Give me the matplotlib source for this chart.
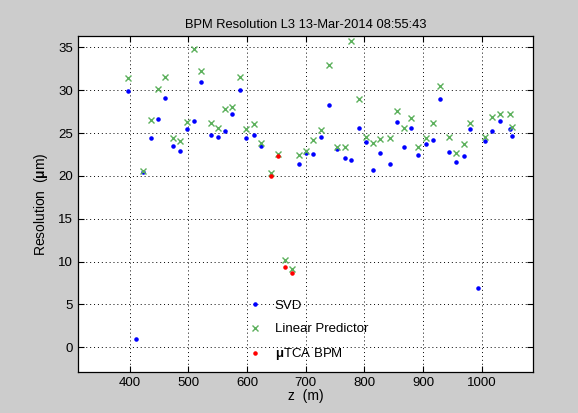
import numpy as np
import matplotlib
matplotlib.use("Agg")
import matplotlib.pyplot as plt

nan = np.nan

# BPM positions along the linac (m)
z = [397, 410, 423, 436, 448, 461, 473, 486, 498, 509, 522, 538, 551, 562,
     575, 588, 599, 612, 623, 640, 652, 665, 677, 688, 700, 713, 726, 740,
     754, 766, 777, 790, 802, 815, 827, 843, 855, 867, 879, 891, 904, 916,
     929, 944, 956, 969, 980, 994, 1005, 1017, 1031, 1048, 1052]

# resolution (um) per method, nan where not plotted
svd = [29.9, 0.93, 20.5, 24.4, 26.6, 29.1, 23.5, 22.9, 25.5, 26.4, 31.0, 24.8,
       24.6, 25.2, 27.2, 30.0, 24.45, 24.8, 23.5, nan, nan, nan, nan, 21.4,
       22.7, 22.6, 24.5, 28.3, 23.1, 22.15, 21.9, 25.6, 24.0, 20.75, 22.65,
       21.45, 26.3, 23.4, 25.6, 22.4, 23.75, 24.2, 29.0, 22.85, 21.65, 22.35,
       25.5, 6.96, 24.1, 25.2, 26.45, 25.5, 24.7]

linear_pred = [31.4, nan, 20.6, 26.5, 30.1, 31.5, 24.45, 24.1, 26.3, 34.8, 32.3,
               26.2, 25.65, 27.8, 28.1, 31.6, 25.5, 26.05, 23.9, 20.3, 22.6,
               10.15, 9.15, 22.5, 22.9, 24.25, 25.4, 33.0, 23.35, 23.35, 35.75,
               29.0, 24.5, 23.9, 24.3, 24.45, 27.6, 25.65, 26.75, 23.4, 24.45,
               26.2, 30.5, 24.5, 22.65, 23.75, 26.2, nan, 24.5, 26.9, 27.25,
               27.2, 25.7]

z_utca = [640, 652, 665, 677]
utca = [20.05, 22.35, 9.4, 8.7]

plt.rcParams["font.family"] = ["Liberation Sans", "DejaVu Sans"]
plt.rcParams["mathtext.fontset"] = "custom"
plt.rcParams["mathtext.bf"] = "Liberation Sans:bold"

fig = plt.figure(figsize=(5.78, 4.13), dpi=100, facecolor="#cccccc")
ax = fig.add_axes([0.135, 0.10, 0.787, 0.812])

ax.plot(z, svd, ".", color="blue", markersize=4.5, label="SVD")
ax.plot(z, linear_pred, "x", color="#5cb05c", markersize=4.5, mew=1,
        label="Linear Predictor")
ax.plot(z_utca, utca, ".", color="red", markersize=4.5,
        label=r"$\mathbf{\mu}$TCA BPM")

ax.set_xlim(312, 1087)
ax.set_ylim(-2.85, 36.3)
ax.set_xticks([400, 500, 600, 700, 800, 900, 1000])
ax.set_yticks([0, 5, 10, 15, 20, 25, 30, 35])
ax.grid(True, linestyle=(0, (1, 3)), color="black", linewidth=0.7)
ax.tick_params(direction="in", top=True, right=True, length=4, labelsize=9.5)
for s in ax.spines.values():
    s.set_linewidth(0.9)

ax.set_title("BPM Resolution L3 13-Mar-2014 08:55:43", fontsize=9.3, pad=6)
ax.set_xlabel("z  (m)", fontsize=10, labelpad=0)
ax.set_ylabel(r"Resolution  ($\mathbf{\mu}$m)", fontsize=10, labelpad=6)

ax.legend(loc="upper left", bbox_to_anchor=(0.36, 0.235), frameon=False,
          fontsize=9.5, handlelength=1.0, handletextpad=1.0,
          labelspacing=0.85, borderpad=0)

fig.savefig("out.png", dpi=100, facecolor=fig.get_facecolor())
